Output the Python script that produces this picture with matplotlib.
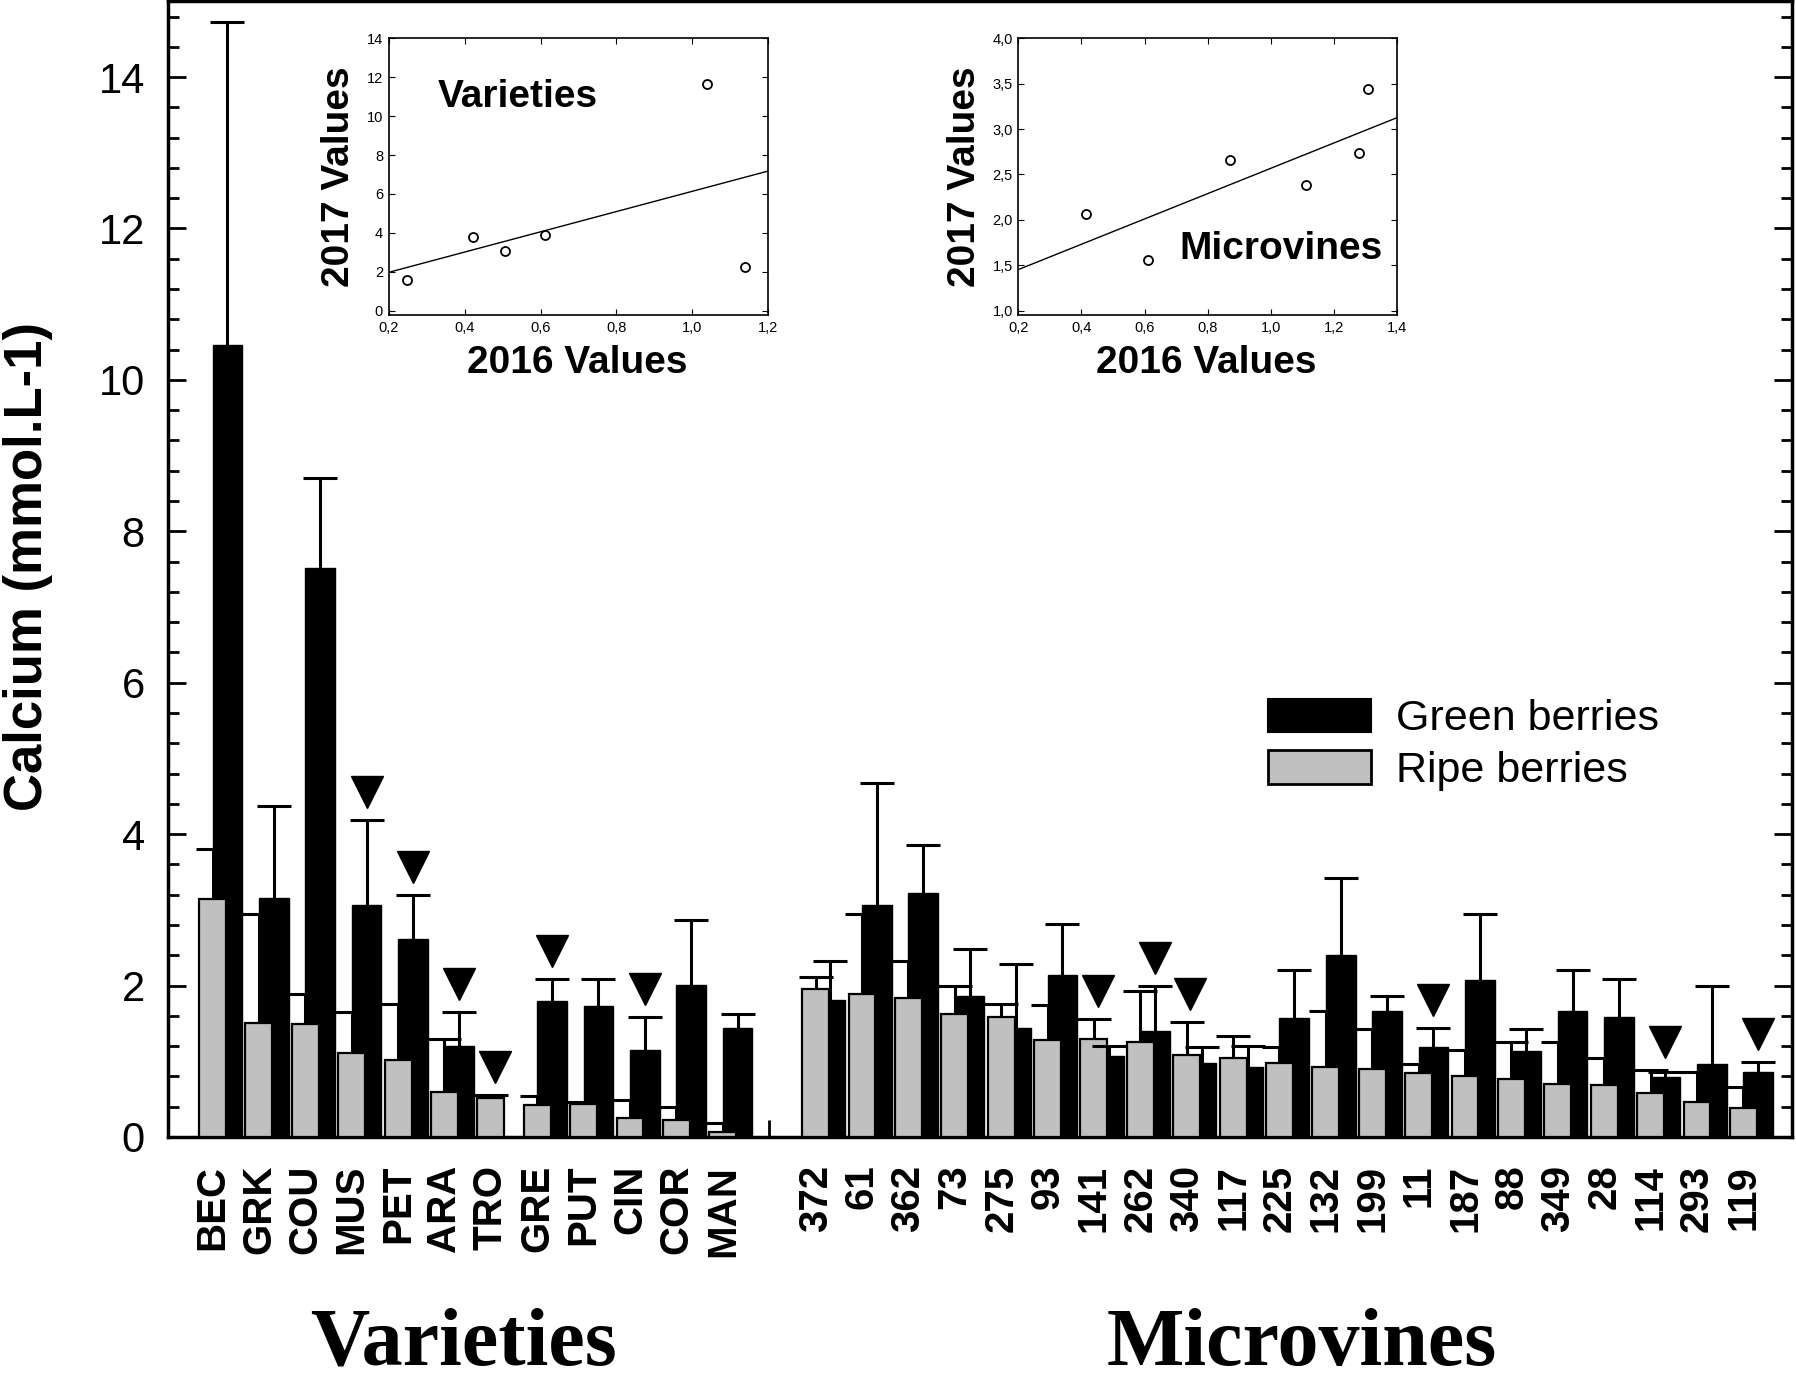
import numpy as np
import matplotlib
matplotlib.use("Agg")
import matplotlib.pyplot as plt
from matplotlib import font_manager
from matplotlib.ticker import MultipleLocator, FixedLocator, FuncFormatter
from matplotlib.transforms import blended_transform_factory
from matplotlib.patches import Patch

# --- data ---
var_labels = ["BEC", "GRK", "COU", "MUS", "PET", "ARA", "TRO", "GRE", "PUT", "CIN", "COR", "MAN"]
var_green = [10.46, 3.16, 7.52, 3.06, 2.61, 1.20, np.nan, 1.80, 1.73, 1.15, 2.01, 1.44]
var_green_err = [4.27, 1.21, 1.18, 1.13, 0.58, 0.45, np.nan, 0.29, 0.35, 0.43, 0.86, 0.18]
var_ripe = [3.14, 1.51, 1.49, 1.11, 1.02, 0.59, 0.52, 0.42, 0.44, 0.25, 0.22, 0.07]
var_ripe_err = [0.67, 1.44, 0.40, 0.54, 0.73, 0.70, 0.04, 0.12, 0.02, 0.24, 0.17, 0.12]

mv_labels = ["372", "61", "362", "73", "275", "93", "141", "262", "340", "117", "225",
             "132", "199", "11", "187", "88", "349", "28", "114", "293", "119"]
mv_green = [1.81, 3.07, 3.22, 1.86, 1.44, 2.14, 1.07, 1.40, 0.98, 0.93, 1.57,
            2.40, 1.67, 1.19, 2.07, 1.13, 1.67, 1.59, 0.79, 0.96, 0.86]
mv_green_err = [0.52, 1.61, 0.63, 0.62, 0.84, 0.67, 0.13, 0.59, 0.21, 0.27, 0.64,
                1.02, 0.19, 0.25, 0.87, 0.30, 0.53, 0.50, 0.07, 1.04, 0.13]
mv_ripe = [1.95, 1.89, 1.84, 1.62, 1.59, 1.28, 1.29, 1.25, 1.08, 1.04, 0.98,
           0.93, 0.90, 0.84, 0.81, 0.76, 0.70, 0.69, 0.58, 0.46, 0.38]
mv_ripe_err = [0.16, 1.05, 0.49, 0.38, 0.16, 0.46, 0.27, 0.68, 0.44, 0.30, 0.21,
               0.74, 0.52, 0.13, 0.34, 0.50, 0.56, 0.35, 0.31, 0.40, 0.28]

flagged = ["MUS", "PET", "ARA", "TRO", "GRE", "CIN", "141", "262", "340", "11", "114", "119"]

var_2016 = [0.249, 0.422, 0.506, 0.613, 1.038, 1.138]
var_2017 = [1.58, 3.80, 3.07, 3.89, 11.64, 2.26]
mv_2016 = [0.413, 0.610, 0.870, 1.111, 1.280, 1.307]
mv_2017 = [2.06, 1.56, 2.66, 2.38, 2.74, 3.44]

installed = {f.name for f in font_manager.fontManager.ttflist}
sans = "Liberation Sans" if "Liberation Sans" in installed else "DejaVu Sans"
serif = "Liberation Serif" if "Liberation Serif" in installed else "DejaVu Serif"
plt.rcParams["font.family"] = [sans, "DejaVu Sans"]

fig = plt.figure(figsize=(17.96, 13.84), dpi=100)
ax = fig.add_axes([0.0938, 0.1785, 0.904, 0.8205])

labels = var_labels + mv_labels
x = np.concatenate([np.arange(len(var_labels)),
                    np.arange(len(mv_labels)) + len(var_labels) + 1]).astype(float)
green = np.array(var_green + mv_green)
green_err = np.array(var_green_err + mv_green_err)
ripe = np.array(var_ripe + mv_ripe)
ripe_err = np.array(var_ripe_err + mv_ripe_err)

gray_w = 0.58
black_w = 0.64
xb = x + black_w / 2
lw_err = 2.2
cap = 25

# ripe error bars sit behind the bars
ax.vlines(x, ripe, ripe + ripe_err, color="k", lw=lw_err, zorder=1)
ax.plot(x, ripe + ripe_err, ls="none", marker="_", ms=cap, mew=lw_err, color="k", zorder=1)
ax.bar(xb, green, width=black_w, color="k", edgecolor="k", lw=1, zorder=2)
ax.bar(x, ripe, width=gray_w, color="#c0c0c0", edgecolor="k", lw=1.6, zorder=3)
ok = ~np.isnan(green)
ax.vlines(xb[ok], green[ok], (green + green_err)[ok], color="k", lw=lw_err, zorder=4)
ax.plot(xb[ok], (green + green_err)[ok], ls="none", marker="_", ms=cap, mew=lw_err,
        color="k", zorder=4)

# triangles
gtop = green + green_err
rtop = ripe + ripe_err
tx, ty = [], []
for lab in flagged:
    i = labels.index(lab)
    if np.isnan(gtop[i]) or rtop[i] - gtop[i] > 0.1:
        tx.append(x[i] + 0.08)
    else:
        tx.append(xb[i])
    ty.append(np.nanmax([gtop[i], rtop[i]]) + 0.37)
ax.plot(tx, ty, ls="none", marker="v", ms=23, color="k", zorder=5)

ax.set_xlim(-0.95, 34.05)
ax.set_ylim(0, 15)
ax.set_xticks(x)
ax.set_xticklabels(labels, rotation=90, fontsize=29, fontweight="bold")
ax.tick_params(axis="x", which="major", length=0, pad=20)
ax.xaxis.set_minor_locator(FixedLocator([len(var_labels)]))
ax.tick_params(axis="x", which="minor", direction="in", length=12, width=2)
ax.yaxis.set_major_locator(MultipleLocator(2))
ax.yaxis.set_minor_locator(MultipleLocator(0.4))
ax.tick_params(axis="y", which="both", direction="in", right=True, width=2,
               labelsize=30, pad=17)
ax.tick_params(axis="y", which="major", length=13)
ax.tick_params(axis="y", which="minor", length=8)
for s in ax.spines.values():
    s.set_linewidth(2.5)

ax.set_ylabel("Calcium (mmol.L-1)", fontsize=38, fontweight="bold")
ax.yaxis.set_label_coords(-0.071, 0.502)

trans = blended_transform_factory(ax.transData, fig.transFigure)
ax.text(np.mean(x[:len(var_labels)]) - 0.08, 0.001, "Varieties", transform=trans,
        ha="center", va="bottom", family=serif, fontsize=59, fontweight="bold")
ax.text(np.mean(x[len(var_labels):]) + 0.48, 0.0137, "Microvines", transform=trans,
        ha="center", va="baseline", family=serif, fontsize=59, fontweight="bold")

handles = [Patch(facecolor="k", edgecolor="k", lw=1.5),
           Patch(facecolor="#c0c0c0", edgecolor="k", lw=2)]
ax.legend(handles, ["Green berries", "Ripe berries"], loc="upper left",
          bbox_to_anchor=(0.677, 0.386), frameon=False, fontsize=31, handlelength=2.4,
          handleheight=0.81, handletextpad=0.58, labelspacing=0.26, borderpad=0,
          borderaxespad=0)

comma = FuncFormatter(lambda v, p: f"{v:.1f}".replace(".", ","))


def inset(rect, xs, ys, xlim, ylim, ystep, yfmt, name, name_xy, ylab_x):
    a = fig.add_axes(rect)
    a.plot(xs, ys, ls="none", marker="o", mfc="white", mec="k", ms=6.5, mew=1.3)
    coef = np.polyfit(xs, ys, 1)
    lx = np.array(xlim)
    a.plot(lx, np.polyval(coef, lx), color="k", lw=1)
    a.set_xlim(*xlim)
    a.set_ylim(*ylim)
    a.xaxis.set_major_locator(MultipleLocator(0.2))
    a.yaxis.set_major_locator(MultipleLocator(ystep))
    a.xaxis.set_major_formatter(comma)
    a.yaxis.set_major_formatter(yfmt)
    a.tick_params(direction="in", top=True, right=True, length=4, labelsize=10.5, pad=4)
    for s in a.spines.values():
        s.set_linewidth(1.2)
    a.set_xlabel("2016 Values", fontsize=28, fontweight="bold")
    a.set_ylabel("2017 Values", fontsize=28, fontweight="bold")
    a.xaxis.set_label_coords(0.496, -0.108)
    a.yaxis.set_label_coords(ylab_x, 0.5)
    a.text(name_xy[0], name_xy[1], name, fontsize=28, fontweight="bold", va="center")
    return a


inset([0.2164, 0.7724, 0.2114, 0.1999], var_2016, var_2017, (0.2, 1.2), (-0.22, 14), 2,
      FuncFormatter(lambda v, p: f"{v:.0f}"), "Varieties", (0.33, 11.0), -0.083)
inset([0.567, 0.7724, 0.2109, 0.1999], mv_2016, mv_2017, (0.2, 1.4), (0.952, 4.0), 0.5,
      comma, "Microvines", (0.709, 1.676), -0.093)

fig.savefig("out.png", dpi=100)
